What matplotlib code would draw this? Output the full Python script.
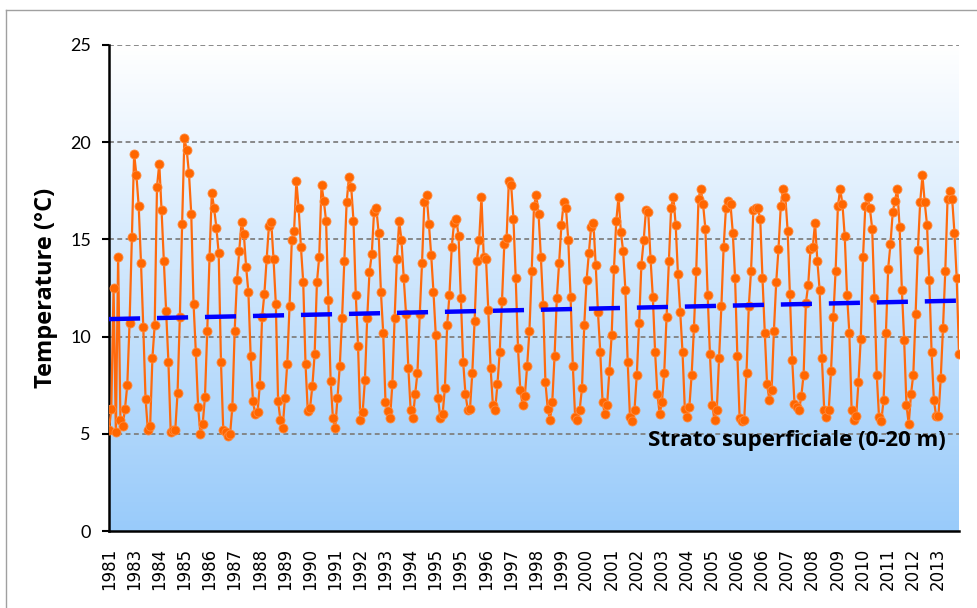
import matplotlib
matplotlib.use("Agg")
import matplotlib.pyplot as plt
import numpy as np
from matplotlib.colors import LinearSegmentedColormap

# monthly-ish surface layer temperatures (°C)
temp_1981_1988 = [5.2, 6.3, 12.5, 5.1, 14.1, 5.7, 5.4, 6.3, 7.5, 10.7, 15.1, 19.4, 18.3, 16.7, 13.8, 10.5,
                  6.8, 5.2, 5.4, 8.9, 10.6, 17.7, 18.9, 16.5, 13.9, 11.3, 8.7, 5.1, 5.2, 5.2, 7.1, 11.0,
                  15.8, 20.2, 19.6, 18.4, 16.3, 11.7, 9.2, 6.4, 5.0, 5.5, 6.9, 10.3, 14.1, 17.4, 16.6, 15.6,
                  14.3, 8.7, 5.2, 5.1, 4.9, 5.0, 6.4, 10.3, 12.9, 14.4, 15.9, 15.3, 13.6, 12.3, 9.0, 6.7,
                  6.0, 6.1, 7.5, 11.0, 12.2, 14.0, 15.7, 15.9, 14.0, 11.7, 6.7, 5.7]
temp_1989_1995 = [5.3, 6.85, 8.6, 11.55, 14.95, 15.45, 18.0, 16.6, 14.6, 12.8, 8.6, 6.15, 6.35, 7.45, 9.1,
                  12.8, 14.1, 17.8, 17.0, 15.95, 11.9, 7.7, 5.8, 5.3, 6.85, 8.5, 10.95, 13.9, 16.9, 18.2,
                  17.7, 15.95, 12.15, 9.5, 5.7, 6.1, 7.75, 10.95, 13.3, 14.25, 16.4, 16.6, 15.35, 12.3, 10.2,
                  6.65, 6.15, 5.8, 7.55, 10.95, 14.0, 15.95, 14.95, 13.0, 11.15, 8.4, 6.25, 5.8, 7.05, 8.15,
                  11.15, 13.8, 16.9, 17.3, 15.8, 14.2, 12.3, 10.1, 6.85, 5.8, 6.0, 7.35, 10.6, 12.15]
temp_1996_2002 = [14.6, 15.85, 16.05, 15.15, 12.0, 8.7, 7.05, 6.25, 6.3, 8.15, 10.8, 13.9, 14.95, 17.2, 14.1,
                  14.0, 11.35, 8.4, 6.5, 6.25, 7.55, 9.2, 11.85, 14.75, 15.05, 18.0, 17.8, 16.05, 13.0, 9.4,
                  7.25, 6.5, 6.95, 8.5, 10.3, 13.4, 16.7, 17.3, 16.3, 14.1, 11.65, 7.65, 6.3, 5.7, 6.65,
                  9.0, 12.0, 13.8, 15.75, 16.9, 16.6, 14.95, 12.05, 8.5, 5.85, 5.7, 6.25, 7.35, 10.6, 12.9,
                  14.3, 15.65, 15.85, 13.7, 11.25, 9.2, 6.65, 6.0, 6.5, 8.25, 10.1, 13.5]
temp_2003_2008 = [15.95, 17.2, 15.4, 14.4, 12.4, 8.7, 5.85, 5.65, 6.25, 8.05, 10.7, 13.7, 14.95, 16.5, 16.4,
                  14.0, 12.05, 9.2, 7.05, 6.0, 6.65, 8.15, 11.0, 13.9, 16.6, 17.2, 15.75, 13.2, 11.25, 9.2,
                  6.3, 5.85, 6.4, 8.05, 10.45, 13.4, 17.1, 17.6, 16.8, 15.55, 12.15, 9.1, 6.5, 5.7, 6.25,
                  8.9, 11.55, 14.6, 16.6, 17.0, 16.8, 15.35, 13.0, 9.0, 5.8, 5.65, 5.7, 8.15, 11.55, 13.4,
                  16.5, 16.6, 16.6, 16.05, 13.0, 10.2, 7.55, 6.75, 7.25, 10.3, 12.8, 14.5, 16.7, 17.6]
temp_2009_2013 = [17.2, 15.45, 12.2, 8.8, 6.55, 6.4, 6.2, 6.95, 8.05, 11.75, 12.65, 14.5, 14.6, 15.85, 13.9,
                  12.4, 8.9, 6.25, 5.85, 6.25, 8.25, 11.0, 13.4, 16.7, 17.6, 16.8, 15.15, 12.15, 10.2, 6.25,
                  5.7, 5.9, 7.65, 9.9, 14.1, 16.7, 17.2, 16.6, 15.55, 12.0, 8.05, 5.85, 5.65, 6.75, 10.2,
                  13.5, 14.75, 16.4, 17.0, 17.6, 15.65, 12.4, 9.8, 6.5, 5.5, 7.05, 8.05, 11.15, 14.45, 16.9,
                  18.3, 16.9, 15.75, 12.9, 9.2, 6.75, 5.9, 5.9, 7.85, 10.45, 13.4, 17.1, 17.5, 17.1, 15.35,
                  13.0, 9.1]

# linear trend (start / end values)
trend_start = 10.9
trend_end = 11.85

year_labels = ["1981", "1983", "1984", "1985", "1986", "1987", "1988", "1989", "1990", "1991",
               "1992", "1993", "1994", "1995", "1995", "1996", "1997", "1998", "1999", "2000",
               "2001", "2002", "2003", "2004", "2005", "2006", "2006", "2007", "2008", "2009",
               "2010", "2011", "2012", "2013"]

temp = np.array(temp_1981_1988 + temp_1989_1995 + temp_1996_2002 + temp_2003_2008 + temp_2009_2013)
n = len(temp)
x = np.arange(n)

fig = plt.figure(figsize=(9.77, 6.08), dpi=100)
ax = fig.add_axes([109/977, 1-531/608, 850/977, 486/608])

# gradient background
cmap = LinearSegmentedColormap.from_list("bg", ["#FFFFFF", "#99CBFA"])
grad = np.linspace(0, 1, 256).reshape(-1, 1)
ax.imshow(grad, cmap=cmap, extent=[0, n-1, 0, 25], aspect="auto", origin="upper", zorder=0)

for v in [5, 10, 15, 20, 25]:
    ax.axhline(v, color="#808080", lw=1.3, linestyle=(0, (2.7, 1.9)), zorder=1)

ax.plot(x, temp, color="#FF6A0D", lw=1.6, marker="o", markersize=6.5,
        markerfacecolor="#FF6600", markeredgecolor="#FF8A3D", markeredgewidth=0.6, zorder=3)
ax.plot([0, n-1], [trend_start, trend_end], color="#0000FF", lw=3.2,
        linestyle=(0, (7, 3.8)), zorder=4)

ax.set_xlim(0, n-1)
ax.set_ylim(0, 25)
ax.set_yticks([0, 5, 10, 15, 20, 25])
ax.set_yticklabels(["0", "5", "10", "15", "20", "25"], fontfamily="Lato", fontsize=13)
ticks = np.linspace(0, n-1, 34) * 0.975
ax.set_xticks(ticks)
ax.set_xticklabels(year_labels, rotation=90, fontsize=12, family="DejaVu Sans")
ax.tick_params(axis="x", length=0, pad=12)
ax.tick_params(axis="y", length=5, width=1.5, direction="out", pad=8)

for s in ["top", "right"]:
    ax.spines[s].set_visible(False)
for s in ["left", "bottom"]:
    ax.spines[s].set_linewidth(1.8)
    ax.spines[s].set_color("black")

ax.set_ylabel("Temperature (°C)", family="Open Sans", fontweight="bold", fontsize=17, labelpad=9)
ax.text(0.634, 0.187, "Strato superficiale (0-20 m)", transform=ax.transAxes,
        family="Open Sans", fontweight="bold", fontsize=16, ha="left", va="center", zorder=5)

# chart area border (top / left)
fig.add_artist(plt.Line2D([6/977, 1], [1-10/608, 1-10/608], transform=fig.transFigure,
                          color="#A0A0A0", lw=1))
fig.add_artist(plt.Line2D([6/977, 6/977], [0, 1-10/608], transform=fig.transFigure,
                          color="#A0A0A0", lw=1))

fig.savefig("out.png", dpi=100)
